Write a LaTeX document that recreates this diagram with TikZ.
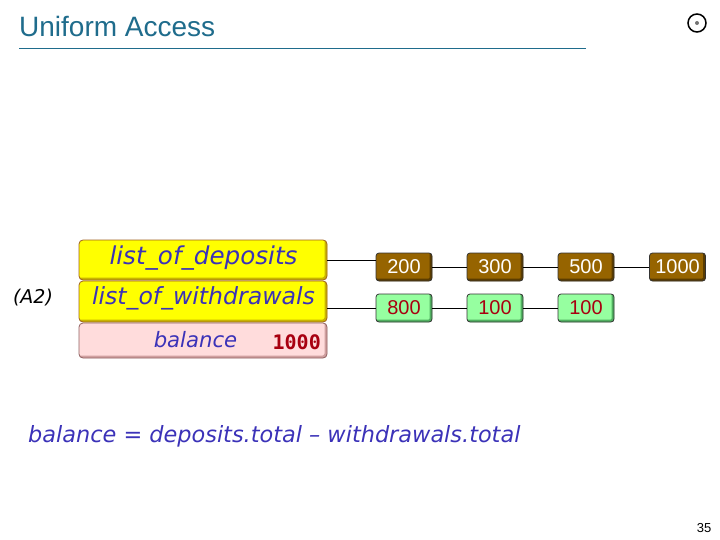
\documentclass[tikz,border=0pt]{standalone}
\usepackage{fontspec}
\setmainfont{Liberation Sans}
\newfontfamily\handfont{DejaVu Sans}
\newfontfamily\monofont{DejaVu Sans Mono}
\definecolor{titleblue}{HTML}{1F6C8C}
\definecolor{textblue}{HTML}{3B32B8}
\definecolor{yellowfill}{HTML}{FFFF00}
\definecolor{yellowedge}{HTML}{C8B400}
\definecolor{yellowline}{HTML}{A06020}
\definecolor{pinkfill}{HTML}{FFDCDC}
\definecolor{pinkedge}{HTML}{D0A0A0}
\definecolor{pinkline}{HTML}{906060}
\definecolor{brownfill}{HTML}{966400}
\definecolor{brownedge}{HTML}{5A3C00}
\definecolor{greenfill}{HTML}{96FFA0}
\definecolor{greenedge}{HTML}{50B060}
\definecolor{darkred}{HTML}{A80010}
\begin{document}
\begin{tikzpicture}[x=1pt,y=-1pt]
\tikzstyle{bevel}=[path picture={\draw[#1, line width=5pt] (path picture bounding box.north east) -- (path picture bounding box.south east) -- (path picture bounding box.south west);}]
\tikzstyle{field}=[rounded corners=4pt, minimum width=248pt, inner sep=0pt, line width=0.8pt]
\tikzstyle{yellow field}=[field, draw=yellowline, fill=yellowfill, bevel=yellowedge]
\tikzstyle{cell}=[draw=black!80, rounded corners=3pt, minimum width=56pt, minimum height=28pt, inner sep=0pt, line width=0.8pt, font=\fontsize{20}{20}\selectfont]
\tikzstyle{brown cell}=[cell, fill=brownfill, text=white, bevel=brownedge]
\tikzstyle{green cell}=[cell, fill=greenfill, text=darkred, bevel=greenedge]
\tikzstyle{fieldname}=[text=textblue, font=\handfont\itshape, inner sep=0pt]
\useasboundingbox (0,0) rectangle (720,540);

\node[anchor=base west, inner sep=0pt, text=titleblue, font=\fontsize{28}{28}\selectfont] (title) at (19,37) {Uniform Access};
\coordinate (ruleleft) at (19,48);
\coordinate (ruleright) at (586,48);
\draw[titleblue, line width=0.8pt] (ruleleft) -- (ruleright);
\node[draw, circle, line width=1.5pt, minimum size=18pt, inner sep=0pt] (logo) at (697,23) {};
\node[circle, fill=black!55, minimum size=4pt, inner sep=0pt] (logodot) at (logo.center) {};

\node[yellow field, minimum height=40pt] (deposits) at (203,260) {};
\node[yellow field, minimum height=41pt] (withdrawals) at (203,301.5) {};
\node[field, draw=pinkline, fill=pinkfill, bevel=pinkedge, minimum height=35pt] (balance) at (203,340.5) {};
\node[fieldname] (depositsname) at (203.5,258) {\fontsize{24.6}{25}\selectfont list\_of\_deposits};
\node[fieldname] (withdrawalsname) at (203.5,298) {\fontsize{23.6}{24}\selectfont list\_of\_withdrawals};
\node[fieldname] (balancename) at (195.5,340) {\fontsize{21.2}{22}\selectfont balance};
\node[anchor=east, inner sep=0pt, text=darkred, font=\fontsize{20}{20}\selectfont\monofont\bfseries] (total) at (321,342) {1000};
\node[font=\fontsize{19}{19}\selectfont\handfont\itshape] (axiom) at (33,298) {(A2)};

\node[brown cell] (d1) at (404,267) {200};
\node[brown cell] (d2) at (495,267) {300};
\node[brown cell] (d3) at (586,267) {500};
\node[brown cell] (d4) at (677.5,267) {1000};
\node[green cell] (w1) at (404,308) {800};
\node[green cell] (w2) at (495,308) {100};
\node[green cell] (w3) at (586,308) {100};

\draw (deposits.east) -- (deposits.east -| d1.west);
\draw (withdrawals.east |- w1.west) -- (w1);
\draw (d1) -- (d2) -- (d3) -- (d4);
\draw (w1) -- (w2) -- (w3);

\node[fieldname, anchor=base west] (formula) at (28,442) {\fontsize{22.4}{23}\selectfont balance = deposits.total – withdrawals.total};
\node[font=\fontsize{13}{13}\selectfont] (page) at (704,528) {35};
\end{tikzpicture}
\end{document}
